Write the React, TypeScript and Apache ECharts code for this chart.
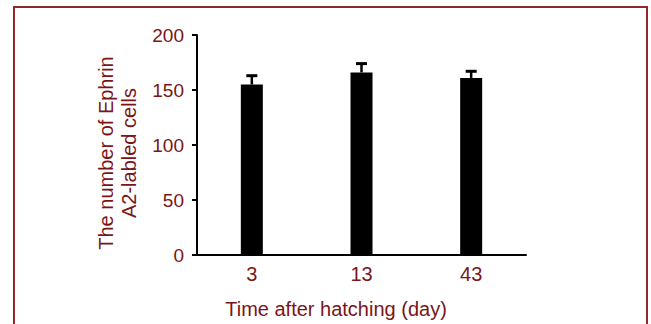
import React, { useEffect, useRef } from "react";
import * as echarts from "echarts";

const categories = ["3", "13", "43"];
const means = [155, 166, 161];
const errors = [8, 8, 6];
const yTicks = { min: 0, max: 200, interval: 50 };
const xTitle = "Time after hatching (day)";
const yTitle = "The number of Ephrin\nA2-labled cells";

const TEXT = "#7a1518";
const FONT = "'Liberation Sans', Arial, sans-serif";

export default function App() {
  const ref = useRef<HTMLDivElement>(null);
  useEffect(() => {
    if (!ref.current) return;
    const chart = echarts.init(ref.current, undefined, { renderer: "svg" });
    const errData = means.map((m, i) => [i, m, m + errors[i]]);
    chart.setOption({
      animation: false,
      backgroundColor: "#ffffff",
      textStyle: { fontFamily: FONT },
      grid: { left: 197, right: 125, top: 35, bottom: 69 },
      xAxis: {
        type: "category",
        data: categories,
        axisLine: { lineStyle: { color: "#000", width: 2 } },
        axisTick: { alignWithLabel: true, length: 6, lineStyle: { color: "#000", width: 2 } },
        axisLabel: { color: TEXT, fontSize: 20, fontFamily: FONT, margin: 9 },
      },
      yAxis: {
        type: "value",
        min: yTicks.min,
        max: yTicks.max,
        interval: yTicks.interval,
        splitLine: { show: false },
        axisLine: { show: true, lineStyle: { color: "#000", width: 2 } },
        axisTick: { show: true, length: 5, lineStyle: { color: "#000", width: 2 } },
        axisLabel: { color: TEXT, fontSize: 19, fontFamily: FONT, margin: 13 },
      },
      series: [
        {
          type: "bar",
          data: means,
          barWidth: 22,
          itemStyle: { color: "#000" },
        },
        {
          type: "custom",
          data: errData,
          z: 3,
          renderItem: (params: any, api: any) => {
            const i = api.value(0);
            const lo = api.coord([i, api.value(1)]);
            const hi = api.coord([i, api.value(2)]);
            return {
              type: "group",
              children: [
                {
                  type: "line",
                  shape: { x1: lo[0], y1: lo[1], x2: hi[0], y2: hi[1] },
                  style: { stroke: "#000", lineWidth: 2.5 },
                },
                {
                  type: "line",
                  shape: { x1: hi[0] - 5.5, y1: hi[1], x2: hi[0] + 5.5, y2: hi[1] },
                  style: { stroke: "#000", lineWidth: 3 },
                },
              ],
            };
          },
        },
      ],
      graphic: [
        {
          type: "rect",
          shape: { x: 14, y: 7, width: 633, height: 340 },
          style: { fill: "none", stroke: "#8a2a2c", lineWidth: 2 },
          silent: true,
        },
        {
          type: "text",
          x: 336,
          y: 309,
          style: {
            text: xTitle,
            fill: TEXT,
            font: `20px ${FONT}`,
            align: "center",
            verticalAlign: "middle",
          },
        },
        {
          type: "text",
          x: 117,
          y: 153,
          rotation: Math.PI / 2,
          style: {
            text: yTitle,
            fill: TEXT,
            font: `20px ${FONT}`,
            lineHeight: 23,
            align: "center",
            verticalAlign: "middle",
          },
        },
      ],
    });
    return () => chart.dispose();
  }, []);
  return (
    <div
      ref={ref}
      style={{ position: "fixed", left: 0, top: 0, width: 651, height: 324 }}
    />
  );
}
